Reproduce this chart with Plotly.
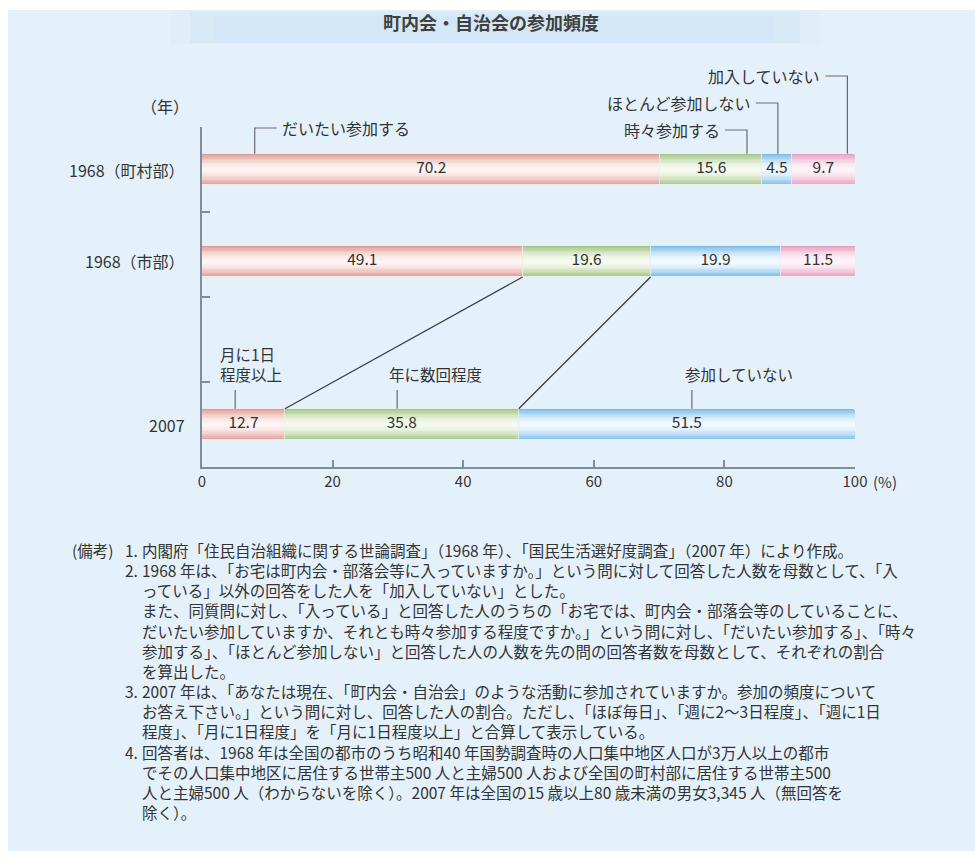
import numpy as np
import plotly.graph_objects as go

# ---------------- data ----------------
rows = ["1968（町村部）", "1968（市部）", "2007"]
cats_1968 = ["だいたい参加する", "時々参加する", "ほとんど参加しない", "加入していない"]
daitai_1968 = [70.2, 49.1]
tokidoki_1968 = [15.6, 19.6]
hotondo_1968 = [4.5, 19.9]
mikanyu_1968 = [9.7, 11.5]
cats_2007 = ["月に1日程度以上", "年に数回程度", "参加していない"]
labels_2007 = ["月に1日<br>程度以上", "年に数回程度", "参加していない"]
values_2007 = [12.7, 35.8, 51.5]
x_tickvals = [0, 20, 40, 60, 80, 100]
title = "町内会・自治会の参加頻度"
note_nums = ["1.", "2.", "3.", "4."]
note_paras = [
    ["内閣府「住民自治組織に関する世論調査」（1968 年）、「国民生活選好度調査」（2007 年）により作成。"],
    ["1968 年は、「お宅は町内会・部落会等に入っていますか。」という問に対して回答した人数を母数として、「入",
     "っている」以外の回答をした人を「加入していない」とした。",
     "また、同質問に対し、「入っている」と回答した人のうちの「お宅では、町内会・部落会等のしていることに、",
     "だいたい参加していますか、それとも時々参加する程度ですか。」という問に対し、「だいたい参加する」、「時々",
     "参加する」、「ほとんど参加しない」と回答した人の人数を先の問の回答者数を母数として、それぞれの割合",
     "を算出した。"],
    ["2007 年は、「あなたは現在、「町内会・自治会」のような活動に参加されていますか。参加の頻度について",
     "お答え下さい。」という問に対し、回答した人の割合。ただし、「ほぼ毎日」、「週に2～3日程度」、「週に1日",
     "程度」、「月に1日程度」を「月に1日程度以上」と合算して表示している。"],
    ["回答者は、1968 年は全国の都市のうち昭和40 年国勢調査時の人口集中地区人口が3万人以上の都市",
     "でその人口集中地区に居住する世帯主500 人と主婦500 人および全国の町村部に居住する世帯主500",
     "人と主婦500 人（わからないを除く）。2007 年は全国の15 歳以上80 歳未満の男女3,345 人（無回答を",
     "除く）。"],
]

# ---------------- layout geometry ----------------
FIG_W, FIG_H = 975, 862
PL, PR, PT, PB = 202, 855, 127, 467
Y_MAX = 4
row_pos = [3.5, 2.42, 0.5]
BAR_W = 0.37
FONT = "Noto Sans CJK JP"
TXT = "#333333"
AXC = "#7f8e9b"


def xp(px):
    return (px - PL) / (PR - PL)


def yp(py):
    return (PB - py) / (PB - PT)


def dx(v):  # data x -> paper
    return v / 100.0


def dy(v):  # data y -> paper
    return v / Y_MAX


def px_of(v):
    return PL + v / 100.0 * (PR - PL)


colors = {
    "pink": ("#df9c96", "#fff7f5"),
    "green": ("#a3c585", "#f8fbf2"),
    "blue": ("#7dbbe8", "#f5fbff"),
    "mag": ("#e59fc0", "#fff5fa"),
}
col_1968 = ["pink", "green", "blue", "mag"]
col_2007 = ["pink", "green", "blue"]


def mix(c1, c2, t):
    a = np.array([int(c1[i:i + 2], 16) for i in (1, 3, 5)], float)
    b = np.array([int(c2[i:i + 2], 16) for i in (1, 3, 5)], float)
    c = a + (b - a) * t
    return "rgb(%d,%d,%d)" % tuple(np.round(c).astype(int))


N_LAYERS = 12
layer_w = np.linspace(1.0, 0.08, N_LAYERS)
layer_t = (1 - (1 - np.linspace(0, 1, N_LAYERS)) ** 1.6) * 0.97

fig = go.Figure()

vals_1968 = np.array([daitai_1968, tokidoki_1968, hotondo_1968, mikanyu_1968])
bases_1968 = np.vstack([np.zeros(2), np.cumsum(vals_1968, axis=0)[:-1]])
vals_2007 = np.array(values_2007)
bases_2007 = np.concatenate([[0], np.cumsum(vals_2007)[:-1]])

segments = []
for i, name in enumerate(cats_1968):
    segments.append((name, row_pos[:2], vals_1968[i], bases_1968[i], col_1968[i]))
for i, name in enumerate(cats_2007):
    segments.append((name, [row_pos[2]], [vals_2007[i]], [bases_2007[i]], col_2007[i]))

for name, ys, vals, bases, ck in segments:
    edge, center = colors[ck]
    for k, (wf, t) in enumerate(zip(layer_w, layer_t)):
        fig.add_trace(go.Bar(
            y=list(ys), x=list(vals), base=list(bases), orientation="h",
            width=BAR_W * wf, name=name,
            marker=dict(color=mix(edge, center, t),
                        line=dict(width=1 if k == 0 else 0, color="rgba(255,255,255,0.6)")),
            hoverinfo="skip", showlegend=False,
        ))

for name, ys, vals, bases, ck in segments:
    fig.add_trace(go.Scatter(
        y=list(ys), x=list(np.array(bases) + np.array(vals) / 2),
        mode="text", text=["%.1f" % v for v in vals],
        textfont=dict(size=15.5, color=TXT, family=FONT),
        hoverinfo="skip", showlegend=False,
    ))

shapes = []
annotations = []


def note(text, x, y, size, xanchor="center", yanchor="middle", **kw):
    annotations.append(dict(text=text, x=x, y=y, xref="paper", yref="paper",
                            xanchor=xanchor, yanchor=yanchor, showarrow=False,
                            font=dict(size=size, color=kw.pop("color", TXT), family=FONT,
                                      weight=kw.pop("weight", "normal")), **kw))


# panel background
shapes.append(dict(type="rect", xref="paper", yref="paper", layer="below",
                   x0=xp(8), x1=xp(976), y0=yp(851), y1=yp(10),
                   fillcolor="#e5f1fa", line=dict(width=0)))
# title band (soft gradient)
for (xa, xb, ya, yb, c) in [
    (170, 820, 10, 44, "#dfeef9"),
    (190, 800, 12, 43, "#d9eaf7"),
    (215, 775, 16, 42, "#d3e7f6"),
]:
    shapes.append(dict(type="rect", xref="paper", yref="paper", layer="below",
                       x0=xp(xa), x1=xp(xb), y0=yp(yb), y1=yp(ya),
                       fillcolor=c, line=dict(width=0)))
note(title, xp(491), yp(22), 18, color="#404040", weight="bold")

# row labels
for r, yv in zip(rows, row_pos):
    note(r, xp(187), dy(yv), 16, xanchor="right")
note("（年）", xp(165), yp(106), 16)
note("(%)", xp(871), yp(481), 15, xanchor="left")

LEAD = dict(color="#6a6a6a", width=1.2)

# leaders for top row
top_leaders = [  # (series idx, fraction within segment, label y px, direction)
    (0, 0.115, 128, 1),
    (1, 0.85, 130, -1),
    (2, 0.53, 103, -1),
    (3, 0.88, 76, -1),
]
bar_top0 = dy(row_pos[0] + BAR_W / 2)
for si, frac, ly, d in top_leaders:
    ax = bases_1968[si][0] + frac * vals_1968[si][0]
    apx = px_of(ax)
    hx = apx + d * 22
    shapes.append(dict(type="path", xref="paper", yref="paper",
                       path="M %f,%f L %f,%f L %f,%f" % (xp(apx), bar_top0, xp(apx), yp(ly), xp(hx), yp(ly)),
                       line=LEAD))
    note(cats_1968[si], xp(hx + d * 3), yp(ly), 16, xanchor="left" if d > 0 else "right")

# leaders for 2007 row
bottom_leaders = [(0, 0.40, 17), (1, 0.48, 10), (2, 0.515, 9)]
bar_top2 = dy(row_pos[2] + BAR_W / 2)
for si, frac, off in bottom_leaders:
    ax = bases_2007[si] + frac * vals_2007[si]
    apx = px_of(ax)
    shapes.append(dict(type="line", xref="paper", yref="paper",
                       x0=xp(apx), x1=xp(apx), y0=bar_top2, y1=yp(390), line=LEAD))
    note(labels_2007[si], xp(apx - off), yp(387), 15.5, xanchor="left", yanchor="bottom", align="left")

# connector lines 1968(市部) -> 2007
bar_bot1 = dy(row_pos[1] - BAR_W / 2)
for k in (1, 2):
    x_top = bases_1968[k][1]
    x_bot = bases_2007[k]
    shapes.append(dict(type="line", xref="paper", yref="paper",
                       x0=dx(x_top), y0=bar_bot1, x1=dx(x_bot), y1=bar_top2,
                       line=dict(color="#3d3d3d", width=1.3)))

# notes: numbers block + text block with identical line spacing
NOTE_SIZE = 15.5
LINE_H = 1.3 * NOTE_SIZE
NOTE_Y0 = 550
num_lines, txt_lines = [], []
for num, para in zip(note_nums, note_paras):
    for j, ln in enumerate(para):
        num_lines.append(num if j == 0 else "\u00a0")
        txt_lines.append(ln)
n_lines = len(txt_lines)
yc = NOTE_Y0 + (n_lines - 1) * LINE_H / 2
note("(備考)", xp(70), yp(NOTE_Y0), NOTE_SIZE, xanchor="left")
note("<br>".join(num_lines), xp(123), yp(yc), NOTE_SIZE, xanchor="left", align="left")
note("<br>".join(txt_lines), xp(140), yp(yc), NOTE_SIZE, xanchor="left", align="left")

fig.update_layout(
    width=FIG_W, height=FIG_H, autosize=False,
    margin=dict(l=PL, r=FIG_W - PR, t=PT, b=FIG_H - PB, pad=0),
    paper_bgcolor="white", plot_bgcolor="rgba(0,0,0,0)",
    barmode="overlay", bargap=0,
    font=dict(family=FONT, color=TXT),
    xaxis=dict(range=[0, 100], tickvals=x_tickvals, ticks="inside", ticklen=7, tickwidth=1.5,
               tickcolor=AXC, showline=True, linecolor=AXC, linewidth=1.5, showgrid=False,
               zeroline=False, tickfont=dict(size=15, color=TXT, family=FONT), fixedrange=True),
    yaxis=dict(range=[0, Y_MAX], tickvals=list(range(Y_MAX + 1)), ticks="inside", ticklen=8,
               tickwidth=1.5, tickcolor=AXC, showticklabels=False, showline=True, linecolor=AXC,
               linewidth=1.5, showgrid=False, zeroline=False, fixedrange=True),
    shapes=shapes, annotations=annotations,
)

fig.write_html("out.html")
